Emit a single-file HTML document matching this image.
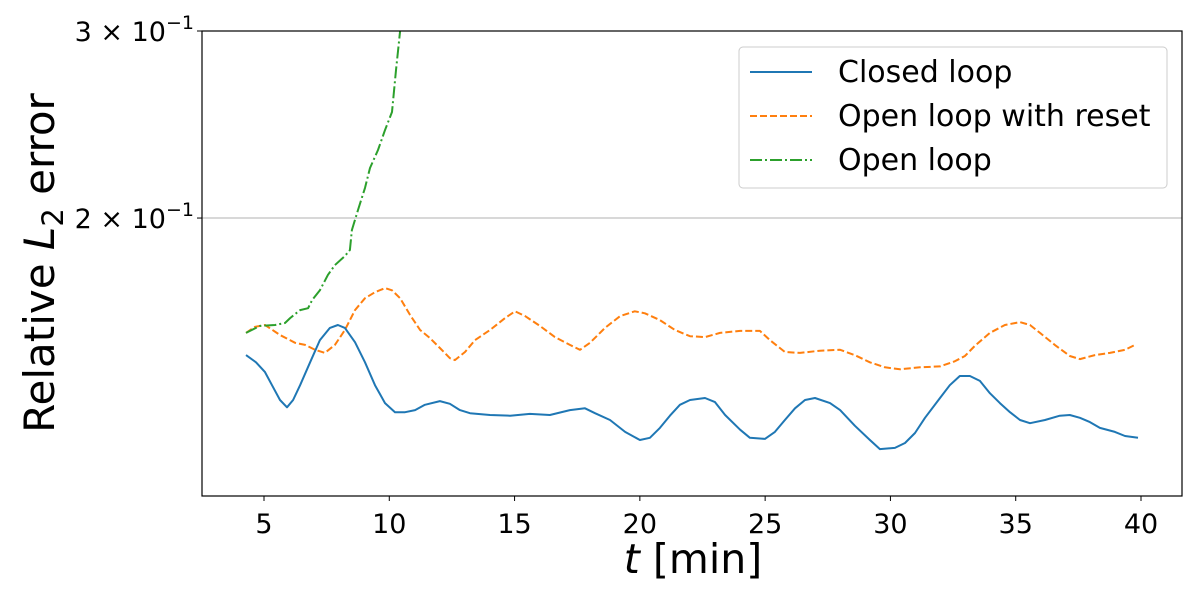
<!DOCTYPE html>
<html><head><meta charset="utf-8"><style>
body{margin:0;background:#fff;}
svg text{font-family:"DejaVu Sans","Liberation Sans",sans-serif;fill:#000;}
</style></head><body>
<svg width="1200" height="600" viewBox="0 0 1200 600" xmlns="http://www.w3.org/2000/svg">
<defs><clipPath id="plotclip"><rect x="202" y="31" width="980" height="465"/></clipPath></defs>
<g id="grid"></g>
<g id="series" clip-path="url(#plotclip)"></g>
<rect x="202" y="31" width="980" height="465" fill="none" stroke="#000" stroke-width="1.2"/>
<g id="xticks"></g><g id="yticks"></g>
<text x="693" y="573" font-size="41" text-anchor="middle"><tspan font-style="italic">t</tspan> [min]</text>
<text transform="translate(54,263) rotate(-90)" font-size="42" text-anchor="middle">Relative <tspan font-style="italic">L</tspan><tspan font-size="29" dy="9">2</tspan><tspan dy="-9"> error</tspan></text>
<g>
<rect x="739" y="47" width="428" height="141" rx="4" fill="#fff" fill-opacity="0.8" stroke="#ccc" stroke-width="1"/>
<line x1="750" y1="72" x2="812" y2="72" stroke="#1f77b4" stroke-width="2"/>
<text x="838" y="82" font-size="30">Closed loop</text>
<line x1="750" y1="116" x2="812" y2="116" stroke="#ff7f0e" stroke-width="2" stroke-dasharray="7,3"/>
<text x="838" y="126" font-size="30">Open loop with reset</text>
<line x1="750" y1="160" x2="812" y2="160" stroke="#2ca02c" stroke-width="2" stroke-dasharray="12,3,2,3"/>
<text x="838" y="170" font-size="30">Open loop</text>
</g>
</svg>
<script>
const xTicks=[5,10,15,20,25,30,35,40];
const closedT=[4.28,4.68,5.04,5.32,5.64,5.92,6.16,6.44,6.84,7.23,7.63,7.95,8.23,8.63,9.03,9.43,9.83,10.23,10.63,11.03,11.42,12.02,12.42,12.82,13.22,14.02,14.82,15.61,16.41,17.21,17.81,18.21,18.81,19.41,20.00,20.40,20.80,21.20,21.60,22.00,22.60,23.00,23.40,24.00,24.39,24.99,25.39,25.79,26.19,26.59,26.99,27.59,27.99,28.58,29.18,29.58,30.18,30.58,30.98,31.38,31.98,32.37,32.77,33.17,33.57,33.97,34.37,34.77,35.17,35.57,36.17,36.76,37.16,37.56,37.96,38.36,38.96,39.36,39.88];
const closedV=[.1486,.1463,.1432,.1392,.1348,.1327,.1348,.1392,.1463,.1535,.1576,.1586,.1576,.1528,.1463,.1392,.1339,.1313,.1313,.1319,.1334,.1345,.1337,.1319,.1310,.1305,.1303,.1308,.1305,.1319,.1324,.1310,.1291,.1258,.1236,.1242,.1269,.1303,.1334,.1348,.1354,.1342,.1305,.1264,.1242,.1239,.1258,.1291,.1324,.1348,.1354,.1339,.1319,.1275,.1236,.1212,.1215,.1228,.1255,.1297,.1354,.1392,.1420,.1420,.1405,.1368,.1339,.1313,.1291,.1282,.1291,.1303,.1305,.1297,.1285,.1269,.1258,.1247,.1242];
const resetT=[4.28,4.64,5.04,5.64,6.24,6.64,7.04,7.43,7.83,8.23,8.63,9.03,9.43,9.83,10.11,10.43,10.83,11.23,11.62,12.02,12.42,12.62,13.02,13.42,14.02,14.62,15.02,15.42,16.01,16.61,17.21,17.61,18.01,18.61,19.21,19.80,20.20,20.80,21.40,22.00,22.60,23.20,24.00,24.79,25.19,25.79,26.39,27.19,27.99,28.58,29.18,29.78,30.38,31.18,31.98,32.57,32.97,33.37,33.97,34.57,35.17,35.57,35.97,36.56,37.16,37.56,38.16,38.76,39.36,39.76];
const resetV=[.1559,.1580,.1586,.1552,.1526,.1519,.1503,.1493,.1519,.1569,.1638,.1681,.1703,.1718,.1710,.1681,.1621,.1569,.1542,.1509,.1476,.1470,.1496,.1535,.1569,.1610,.1634,.1617,.1583,.1545,.1519,.1503,.1526,.1576,.1617,.1634,.1627,.1603,.1569,.1548,.1545,.1559,.1566,.1566,.1535,.1496,.1493,.1500,.1503,.1486,.1463,.1447,.1441,.1447,.1450,.1466,.1483,.1516,.1559,.1586,.1596,.1586,.1559,.1519,.1483,.1473,.1486,.1493,.1503,.1519];
const openT=[4.28,4.84,5.44,5.84,6.04,6.44,6.76,6.92,7.23,7.55,7.83,8.23,8.43,8.51,8.75,9.03,9.23,9.55,9.83,10.11,10.27,10.35,10.43,10.55];
const openV=[.1559,.1583,.1586,.1593,.1610,.1638,.1645,.1674,.1710,.1768,.1806,.1842,.1866,.1949,.2035,.2135,.2229,.2318,.2420,.2517,.2756,.2878,.3000,.3072];
const xMin=2.526,xMax=41.636,L=202,R=1182,T=31,B=496;
const yMin=Math.log10(0.10948),yMax=Math.log10(0.3);
const sx=t=>L+(t-xMin)/(xMax-xMin)*(R-L);
const sy=v=>B-(Math.log10(v)-yMin)/(yMax-yMin)*(B-T);
const NS='http://www.w3.org/2000/svg';
function mk(tag,attrs,parent){const e=document.createElementNS(NS,tag);for(const k in attrs)e.setAttribute(k,attrs[k]);parent.appendChild(e);return e;}
const grid=document.getElementById('grid');
const gl=mk('line',{x1:L,x2:R,y1:sy(0.2),y2:sy(0.2),stroke:'#b0b0b0','stroke-width':1},grid);


const xg=document.getElementById('xticks');
xTicks.forEach(t=>{
 const ln=mk('line',{x1:sx(t),x2:sx(t),y1:B,y2:B+5,stroke:'#000','stroke-width':1},xg);
 
 
 const tx=mk('text',{x:sx(t),y:B+37,'font-size':27,'text-anchor':'middle'},xg);
 tx.textContent=t;
 
 
});
const yg=document.getElementById('yticks');
[[0.3,'3'],[0.2,'2']].forEach(([v,m])=>{
 const ln=mk('line',{x1:L-5,x2:L,y1:sy(v),y2:sy(v),stroke:'#000','stroke-width':1},yg);
 
 
 const tx=mk('text',{x:L-8,y:sy(v)+10,'font-size':27,'text-anchor':'end'},yg);
 tx.innerHTML=m+' \u00d7 10<tspan font-size="19" dy="-12">\u22121</tspan>';
 
 
});
const sg=document.getElementById('series');
function line(ts,vs,color,dash,name){
 const d=ts.map((t,i)=>(i?'L':'M')+sx(t).toFixed(1)+','+sy(vs[i]).toFixed(1)).join('');
 const p=mk('path',{d:d,fill:'none',stroke:color,'stroke-width':2,'stroke-dasharray':dash,'stroke-linejoin':'round'},sg);
 
 
}
line(resetT,resetV,'#ff7f0e','7,3','open-loop-reset-line');
line(openT,openV,'#2ca02c','12,3,2,3','open-loop-line');
line(closedT,closedV,'#1f77b4','none','closed-loop-line');
</script>
</body></html>
